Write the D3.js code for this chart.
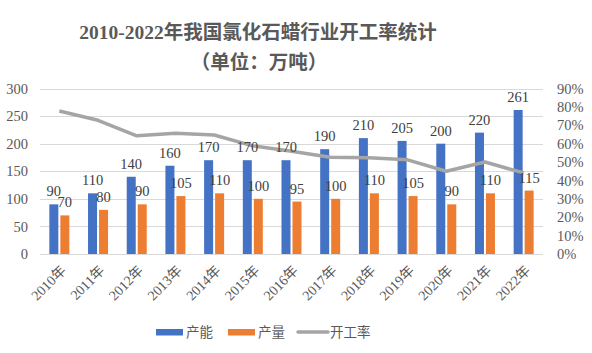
<!DOCTYPE html>
<html>
<head>
<meta charset="utf-8">
<script src="https://cdn.jsdelivr.net/npm/d3@7"></script>
<style>
  body { margin: 0; background: #fff; }
  svg { display: block; }
  text { font-family: "Liberation Serif", "Noto Sans CJK SC", serif; }
</style>
</head>
<body>
<div id="chart"></div>
<script>
// Data
var years = ['2010年', '2011年', '2012年', '2013年', '2014年', '2015年', '2016年',
             '2017年', '2018年', '2019年', '2020年', '2021年', '2022年'];
var capacity = [90, 110, 140, 160, 170, 170, 170, 190, 210, 205, 200, 220, 261];
var output = [70, 80, 90, 105, 110, 100, 95, 100, 110, 105, 90, 110, 115];
var rate = [0.778, 0.727, 0.643, 0.656, 0.647, 0.588, 0.559, 0.526, 0.524, 0.512, 0.45, 0.5, 0.441];
var leftTicks = [0, 50, 100, 150, 200, 250, 300];
var rightTicks = [0, 0.1, 0.2, 0.3, 0.4, 0.5, 0.6, 0.7, 0.8, 0.9];

var width = 592, height = 353;
var plotLeft = 40, plotRight = 543, plotTop = 88.5, plotBottom = 254;

var svg = d3.select('#chart').append('svg')
  .attr('width', width)
  .attr('height', height);

// Scales
var x = d3.scaleBand().domain(years).range([plotLeft, plotRight]);
var y = d3.scaleLinear().domain([0, 300]).range([plotBottom, plotTop]);
var y2 = d3.scaleLinear().domain([0, 0.9]).range([plotBottom, plotTop]);

// Title
svg.append('text')
  .attr('x', 258).attr('y', 39)
  .attr('text-anchor', 'middle')
  .attr('font-size', '19.5px')
  .attr('font-weight', 'bold')
  .attr('fill', '#595959')
  .text('2010-2022年我国氯化石蜡行业开工率统计');
svg.append('text')
  .attr('x', 259).attr('y', 69)
  .attr('text-anchor', 'middle')
  .attr('font-size', '19.5px')
  .attr('font-weight', 'bold')
  .attr('fill', '#595959')
  .text('（单位：万吨）');

// Gridlines
svg.append('g')
  .selectAll('line')
  .data(leftTicks)
  .enter()
  .append('line')
  .attr('x1', plotLeft).attr('x2', plotRight)
  .attr('y1', function (d) { return Math.round(y(d)) + 0.5; })
  .attr('y2', function (d) { return Math.round(y(d)) + 0.5; })
  .attr('stroke', '#d9d9d9')
  .attr('stroke-width', 1);

// Left axis
var yAxis = svg.append('g')
  .attr('transform', 'translate(' + plotLeft + ',0)')
  .call(d3.axisLeft(y).tickValues(leftTicks).tickSize(0).tickPadding(12));
yAxis.select('.domain').remove();
yAxis.selectAll('text')
  .attr('font-family', '"Liberation Serif", serif')
  .attr('font-size', '14.5px')
  .attr('fill', '#595959');

// Right axis
var yAxis2 = svg.append('g')
  .attr('transform', 'translate(' + plotRight + ',0)')
  .call(d3.axisRight(y2).tickValues(rightTicks).tickSize(0).tickPadding(14)
    .tickFormat(d3.format('.0%')));
yAxis2.select('.domain').remove();
yAxis2.selectAll('text')
  .attr('font-family', '"Liberation Serif", serif')
  .attr('font-size', '14.5px')
  .attr('fill', '#595959');

// X labels
svg.append('g')
  .selectAll('text')
  .data(years)
  .enter()
  .append('text')
  .attr('transform', function (d) {
    return 'translate(' + (x(d) + x.bandwidth() / 2 + 4) + ',' + 268 + ') rotate(-45)';
  })
  .attr('text-anchor', 'end')
  .attr('dy', '0.35em')
  .attr('font-size', '14px')
  .attr('fill', '#595959')
  .text(function (d) { return d; });

// Bars
var barW = 9, gap = 2;
var bars = [
  { values: capacity, color: '#4472c4', offset: -barW - gap / 2 },
  { values: output, color: '#ed7d31', offset: gap / 2 }
];
bars.forEach(function (s) {
  var g = svg.append('g');
  g.selectAll('rect')
    .data(s.values)
    .enter()
    .append('rect')
    .attr('x', function (d, i) { return x(years[i]) + x.bandwidth() / 2 + s.offset; })
    .attr('y', function (d) { return y(d); })
    .attr('width', barW)
    .attr('height', function (d) { return plotBottom - y(d); })
    .attr('fill', s.color);
});

// Line
var line = d3.line()
  .x(function (d, i) { return x(years[i]) + x.bandwidth() / 2; })
  .y(function (d) { return y2(d); });
svg.append('path')
  .datum(rate)
  .attr('d', line)
  .attr('fill', 'none')
  .attr('stroke', '#a5a5a5')
  .attr('stroke-width', 3.5)
  .attr('stroke-linejoin', 'round');

// Data labels
bars.forEach(function (s) {
  svg.append('g')
    .selectAll('text')
    .data(s.values)
    .enter()
    .append('text')
    .attr('x', function (d, i) { return x(years[i]) + x.bandwidth() / 2 + s.offset + barW / 2; })
    .attr('y', function (d) { return y(d) - 8; })
    .attr('text-anchor', 'middle')
    .attr('font-size', '14.5px')
    .attr('fill', '#404040')
    .text(function (d) { return d; });
});

// Legend
var legendItems = [
  { name: '产能', color: '#4472c4', type: 'rect', x: 156 },
  { name: '产量', color: '#ed7d31', type: 'rect', x: 228 },
  { name: '开工率', color: '#a5a5a5', type: 'line', x: 297 }
];
var legend = svg.append('g');
legendItems.forEach(function (d) {
  if (d.type === 'rect') {
    legend.append('rect')
      .attr('x', d.x).attr('y', 329)
      .attr('width', 27).attr('height', 6.5)
      .attr('fill', d.color);
  } else {
    legend.append('line')
      .attr('x1', d.x + 1).attr('x2', d.x + 31)
      .attr('y1', 332).attr('y2', 332)
      .attr('stroke', d.color)
      .attr('stroke-width', 3.5)
      .attr('stroke-linecap', 'round');
  }
  legend.append('text')
    .attr('x', d.x + (d.type === 'rect' ? 30 : 33))
    .attr('y', 337)
    .attr('font-size', '13.5px')
    .attr('fill', '#595959')
    .text(d.name);
});
</script>
</body>
</html>
